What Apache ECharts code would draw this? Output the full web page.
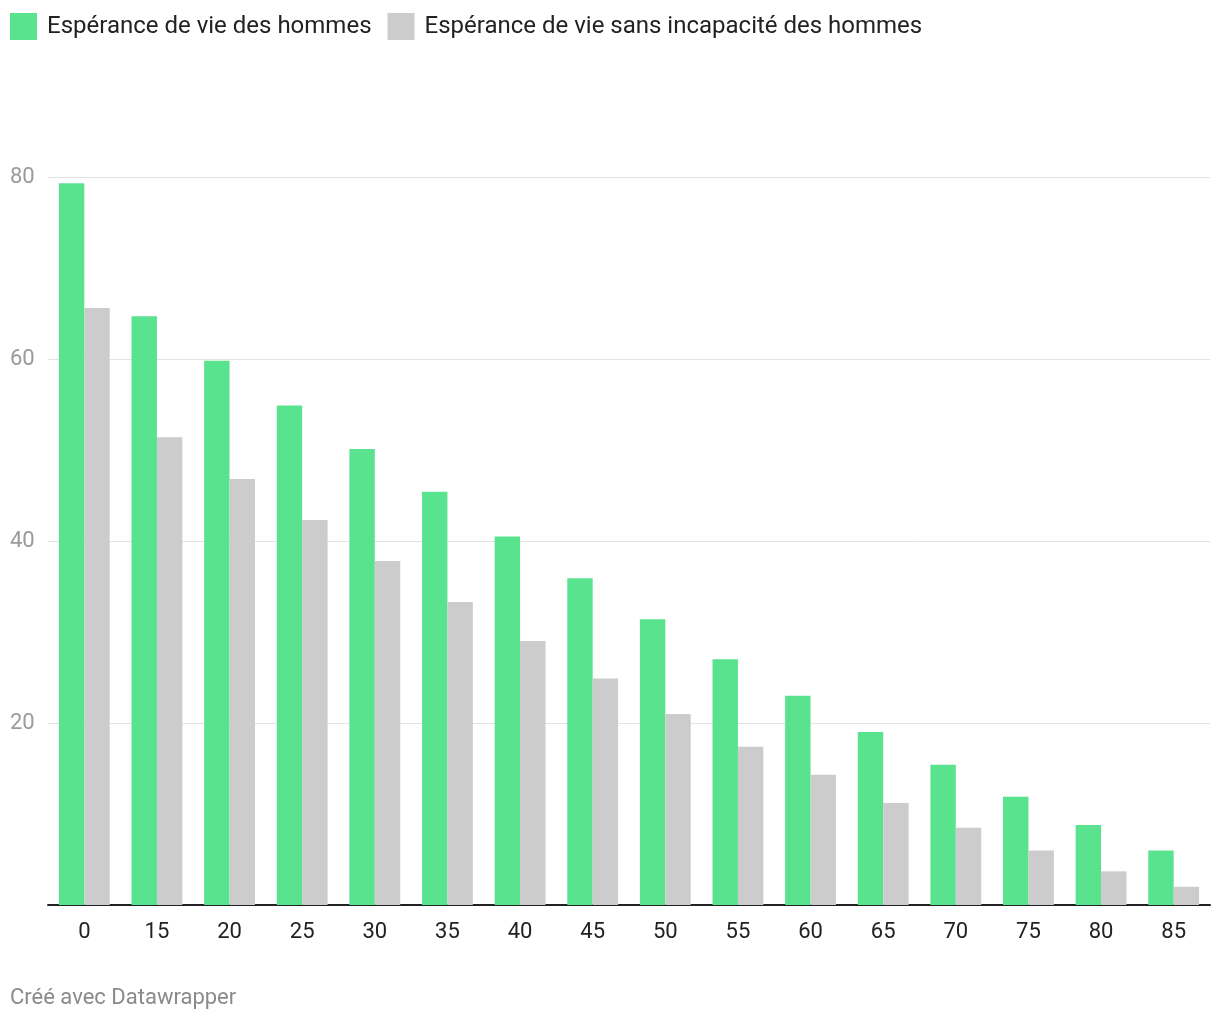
<!DOCTYPE html>
<html>
<head>
<meta charset="utf-8">
<script src="https://cdn.jsdelivr.net/npm/echarts@6/dist/echarts.min.js"></script>
<style>
  html, body { margin: 0; padding: 0; background: #fff; }
  #main { width: 1220px; height: 1020px; }
</style>
</head>
<body>
<div id="main"></div>
<script>
// ages (x axis)
var ages = ['0', '15', '20', '25', '30', '35', '40', '45', '50', '55', '60', '65', '70', '75', '80', '85'];

// values
var lifeExp = [79.3, 64.7, 59.8, 54.9, 50.1, 45.4, 40.5, 35.9, 31.4, 27.0, 23.0, 19.0, 15.4, 11.9, 8.8, 6.0];
var healthyLifeExp = [65.6, 51.4, 46.8, 42.3, 37.8, 33.3, 29.0, 24.9, 21.0, 17.4, 14.3, 11.2, 8.5, 6.0, 3.7, 2.0];

var yTicks = [0, 20, 40, 60, 80];

var font = 'Roboto, "Noto Sans", sans-serif';

var chart = echarts.init(document.getElementById('main'));

var option = {
  animation: false,
  textStyle: { fontFamily: font },
  legend: {
    left: 10,
    top: 13,
    padding: 0,
    itemWidth: 27,
    itemHeight: 27,
    itemGap: 16,
    icon: 'rect',
    textStyle: { fontSize: 24, color: '#222', fontFamily: font, padding: [0, 0, 0, 5] },
    data: ['Espérance de vie des hommes', 'Espérance de vie sans incapacité des hommes']
  },
  graphic: [{
    type: 'text',
    left: 10,
    top: 987,
    style: { text: 'Créé avec Datawrapper', fontSize: 22, fill: '#8a8a8a', fontFamily: font }
  }],
  grid: { left: 48, right: 10, top: 177, bottom: 115, containLabel: false },
  xAxis: {
    type: 'category',
    data: ages,
    axisLine: { lineStyle: { color: '#222', width: 2 } },
    axisTick: { show: false },
    axisLabel: { color: '#222', fontSize: 22, margin: 16, fontFamily: font }
  },
  yAxis: {
    type: 'value',
    min: 0,
    max: 80,
    interval: 20,
    axisLine: { show: false },
    axisTick: { show: false },
    splitLine: { lineStyle: { color: '#e3e3e3', width: 1 } },
    axisLabel: {
      color: '#9a9a9a', fontSize: 22, align: 'left', margin: 38, fontFamily: font,
      formatter: function (v) { return yTicks.indexOf(v) > 0 ? String(v) : ''; }
    }
  },
  series: [
    {
      name: 'Espérance de vie des hommes',
      type: 'bar',
      data: lifeExp,
      barGap: '0%',
      barCategoryGap: '30%',
      itemStyle: { color: '#5ae38f' }
    },
    {
      name: 'Espérance de vie sans incapacité des hommes',
      type: 'bar',
      data: healthyLifeExp,
      itemStyle: { color: '#cccccc' }
    }
  ]
};

chart.setOption(option);
</script>
</body>
</html>
